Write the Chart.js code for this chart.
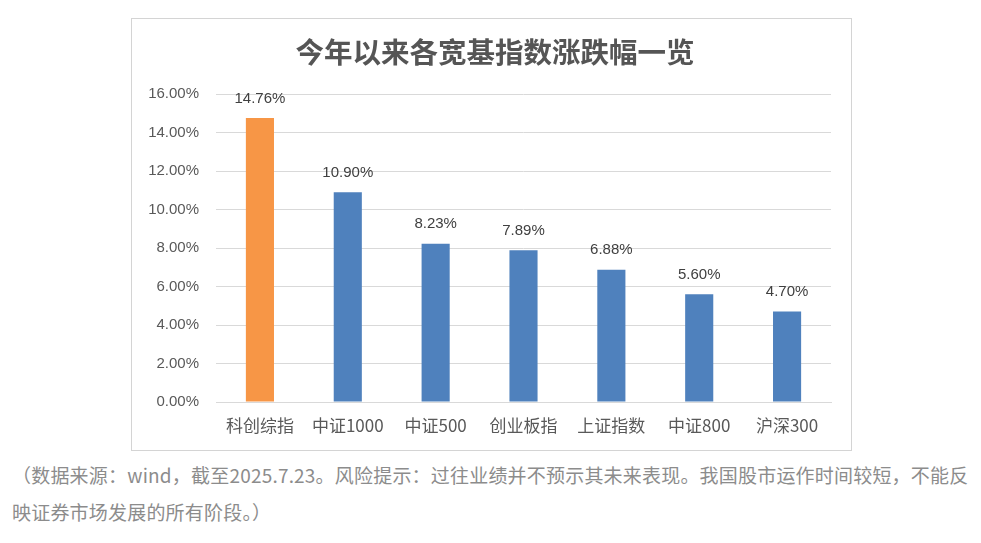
<!DOCTYPE html>
<html>
<head>
<meta charset="utf-8">
<script src="https://cdn.jsdelivr.net/npm/chart.js@4"></script>
<style>
  body { margin: 0; background: #fff; width: 981px; height: 543px; position: relative; overflow: hidden; }
  #box { position: absolute; left: 131px; top: 18px; width: 719px; height: 431px; border: 1px solid #d4d4d4; }
  #caption { position: absolute; left: 12px; top: 456px; font-family: "Noto Sans CJK SC", sans-serif; font-size: 19px; letter-spacing: 0.2px; color: #8c8c8c; line-height: 37px; white-space: nowrap; }
</style>
</head>
<body>
<div id="box"><canvas id="chart" width="719" height="431"></canvas></div>
<div id="caption">（数据来源：wind，截至2025.7.23。风险提示：过往业绩并不预示其未来表现。我国股市运作时间较短，不能反<br>映证券市场发展的所有阶段。）</div>
<script>
const categories = ['科创综指', '中证1000', '中证500', '创业板指', '上证指数', '中证800', '沪深300'];
const changes = [14.76, 10.90, 8.23, 7.89, 6.88, 5.60, 4.70];
const barColors = ['#F79646', '#4F81BD', '#4F81BD', '#4F81BD', '#4F81BD', '#4F81BD', '#4F81BD'];
const yTicks = [0, 2, 4, 6, 8, 10, 12, 14, 16];

// value labels above each bar
const barLabels = {
  id: 'barLabels',
  afterDatasetsDraw(chart) {
    const ctx = chart.ctx;
    const meta = chart.getDatasetMeta(0);
    ctx.save();
    ctx.font = '15px "Liberation Sans", Arial, sans-serif';
    ctx.fillStyle = '#404040';
    ctx.textAlign = 'center';
    ctx.textBaseline = 'bottom';
    meta.data.forEach((bar, i) => {
      ctx.fillText(changes[i].toFixed(2) + '%', bar.x, bar.y - 12);
    });
    ctx.restore();
  }
};

new Chart(document.getElementById('chart').getContext('2d'), {
  type: 'bar',
  data: {
    labels: categories,
    datasets: [{ data: changes, backgroundColor: barColors, barPercentage: 0.32, categoryPercentage: 1 }]
  },
  options: {
    responsive: false,
    animation: false,
    // title is centred a bit right of the box, so padding is uneven
    layout: { padding: { left: 14, right: 7, top: 0, bottom: 0 } },
    plugins: {
      legend: { display: false },
      tooltip: { enabled: false },
      title: {
        display: true,
        text: '今年以来各宽基指数涨跌幅一览',
        color: '#555555',
        font: { family: '"Noto Sans CJK SC", sans-serif', size: 28.5, weight: 'bold' },
        padding: { top: 16, bottom: 25 }
      }
    },
    scales: {
      x: {
        grid: { display: false, drawTicks: false },
        border: { display: true, color: '#d9d9d9' },
        ticks: { color: '#595959', padding: 13, font: { family: '"Noto Sans CJK SC", sans-serif', size: 17 } },
        afterFit(scale) { scale.height = 48; }
      },
      y: {
        min: 0,
        max: 16,
        afterBuildTicks(scale) { scale.ticks = yTicks.map(v => ({ value: v })); },
        grid: { color: '#d9d9d9', drawTicks: false },
        border: { display: false },
        ticks: {
          color: '#595959',
          padding: 17,
          font: { family: '"Liberation Sans", Arial, sans-serif', size: 15 },
          callback: v => v.toFixed(2) + '%'
        },
        afterFit(scale) { scale.width = 70; }
      },
      // empty spacer on the right edge of the plot
      yRight: {
        position: 'right',
        min: 0,
        max: 16,
        grid: { display: false, drawTicks: false },
        border: { display: false },
        ticks: { display: false },
        afterFit(scale) { scale.width = 13; }
      }
    }
  },
  plugins: [barLabels]
});
</script>
</body>
</html>
